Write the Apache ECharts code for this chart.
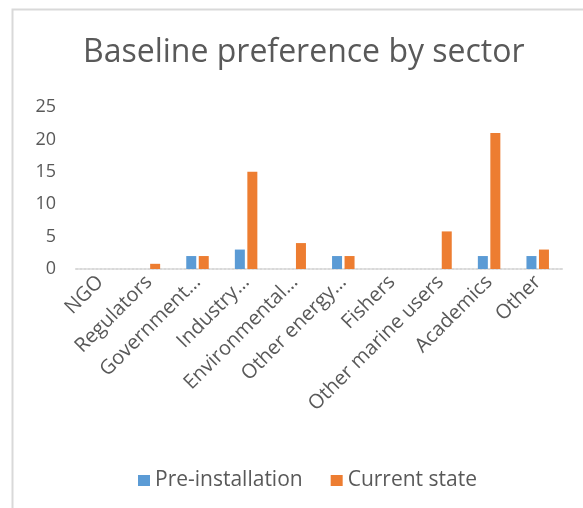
<!DOCTYPE html>
<html><head><meta charset="utf-8">
<script src="https://cdn.jsdelivr.net/npm/echarts@6/dist/echarts.min.js"></script>
<style>html,body{margin:0;padding:0;background:#fff}#c{width:583px;height:508px}</style>
</head><body><div id="c"></div>
<script>
var categories = ["NGO","Regulators","Government…","Industry…","Environmental…","Other energy…","Fishers","Other marine users","Academics","Other"];
var preInstallation = [0,0,2,3,0,2,0,0,2,2];
var currentState = [0,0.8,2,15,4,2,0,5.8,21,3];
var yTicks = [0,5,10,15,20,25];
var FONT = "Open Sans";
var chart = echarts.init(document.getElementById('c'));
chart.setOption({
  animation:false,
  backgroundColor:'#fff',
  graphic:[{type:'rect',shape:{x:12.5,y:9.5,width:600,height:600},style:{fill:'none',stroke:'#d9d9d9',lineWidth:2}}],
  title:{text:'Baseline preference by sector',left:78,top:32,textStyle:{fontFamily:FONT,fontSize:32,fontWeight:'normal',color:'#595959'}},
  legend:{top:465,left:133,itemWidth:12,itemHeight:11,itemGap:28,icon:'rect',textStyle:{fontFamily:FONT,fontSize:21,color:'#595959'},data:['Pre-installation','Current state']},
  grid:{left:76,right:21,top:107,bottom:239,containLabel:false},
  xAxis:{type:'category',data:categories,axisTick:{show:false},
    axisLine:{lineStyle:{color:'#d9d9d9',width:2,type:'dotted'}},
    axisLabel:{rotate:45,interval:0,margin:10,fontFamily:FONT,fontSize:20,color:'#595959'}},
  yAxis:{type:'value',min:yTicks[0],max:yTicks[yTicks.length-1],interval:5,splitLine:{show:false},axisLine:{show:false},axisTick:{show:false},
    axisLabel:{margin:20,fontFamily:FONT,fontSize:18,color:'#595959'}},
  series:[
    {name:'Pre-installation',type:'bar',data:preInstallation,barWidth:10,barGap:'25%',barCategoryGap:'54%',itemStyle:{color:'#5b9bd5'}},
    {name:'Current state',type:'bar',data:currentState,barWidth:10,barGap:'25%',itemStyle:{color:'#ed7d31'}}
  ]
});
</script></body></html>
